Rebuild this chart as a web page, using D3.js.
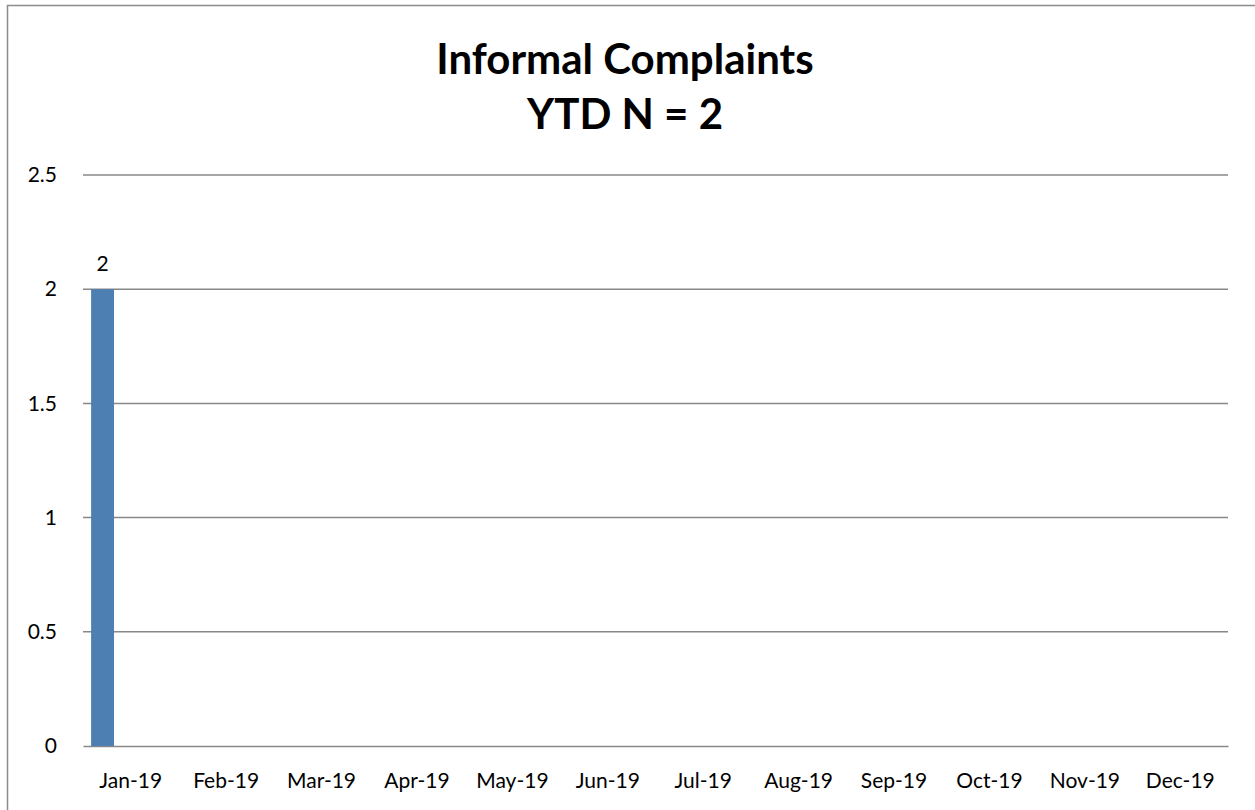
<!DOCTYPE html>
<html>
<head>
<meta charset="utf-8">
<script src="https://cdn.jsdelivr.net/npm/d3@7"></script>
<style>
  body { margin: 0; background: #fff; }
  svg { display: block; font-family: "Lato", "Open Sans", sans-serif; }
  .tick text { font-size: 21px; fill: #000; }
</style>
</head>
<body>
<svg width="1255" height="810"></svg>
<script>
const months = ["Jan-19", "Feb-19", "Mar-19", "Apr-19", "May-19", "Jun-19",
                "Jul-19", "Aug-19", "Sep-19", "Oct-19", "Nov-19", "Dec-19"];
const complaints = [2, null, null, null, null, null, null, null, null, null, null, null];
const yTicks = [0, 0.5, 1, 1.5, 2, 2.5];
const titleLines = ["Informal Complaints", "YTD N = 2"];

const svg = d3.select("svg");

// outer chart border
svg.append("rect")
  .attr("x", 7.5).attr("y", 5.5)
  .attr("width", 1270).attr("height", 830)
  .attr("fill", "none").attr("stroke", "#8c8c8c").attr("stroke-width", 1.5);

const margin = { left: 83, right: 27, top: 175, bottom: 64 };
const width = 1255 - margin.left - margin.right;
const height = 810 - margin.top - margin.bottom;

const x = d3.scaleBand().domain(months).range([0, width]).padding(0);
const y = d3.scaleLinear().domain([0, 2.5]).range([height, 0]);

const g = svg.append("g").attr("transform", `translate(${margin.left},${margin.top})`);

// gridlines
g.selectAll("line.grid")
  .data(yTicks.filter(d => d > 0))
  .enter()
  .append("line")
  .attr("class", "grid")
  .attr("x1", 0).attr("x2", width)
  .attr("y1", d => y(d)).attr("y2", d => y(d))
  .attr("stroke", "#888").attr("stroke-width", 1.5);

// y axis labels
const yAxis = g.append("g")
  .call(d3.axisLeft(y).tickValues(yTicks).tickFormat(d => d).tickSize(0).tickPadding(26))
  .attr("font-family", null).attr("font-size", null);
yAxis.select(".domain").remove();

// x axis
const xAxis = g.append("g")
  .attr("transform", `translate(0,${height})`)
  .call(d3.axisBottom(x).tickSize(0).tickPadding(27))
  .attr("font-family", null).attr("font-size", null);
xAxis.select(".domain").attr("stroke", "#888").attr("stroke-width", 1.5);

// bars
const barOffset = x.bandwidth() * 0.085;
const barWidth = x.bandwidth() * 0.24;
const bars = g.selectAll("g.bar")
  .data(months.map((m, i) => ({ month: m, value: complaints[i] })).filter(d => d.value != null))
  .enter()
  .append("g")
  .attr("class", "bar");

bars.append("rect")
  .attr("x", d => x(d.month) + barOffset)
  .attr("y", d => y(d.value))
  .attr("width", barWidth)
  .attr("height", d => height - y(d.value))
  .attr("fill", "#4e7fb2");

bars.append("text")
  .attr("x", d => x(d.month) + barOffset + barWidth / 2)
  .attr("y", d => y(d.value) - 18)
  .attr("text-anchor", "middle")
  .style("font-size", "21px")
  .text(d => d.value);

// title
svg.selectAll("text.title")
  .data(titleLines)
  .enter()
  .append("text")
  .attr("class", "title")
  .attr("x", 625)
  .attr("y", (d, i) => 74 + i * 55)
  .attr("text-anchor", "middle")
  .style("font-size", "42px")
  .style("font-weight", "bold")
  .text(d => d);
</script>
</body>
</html>
